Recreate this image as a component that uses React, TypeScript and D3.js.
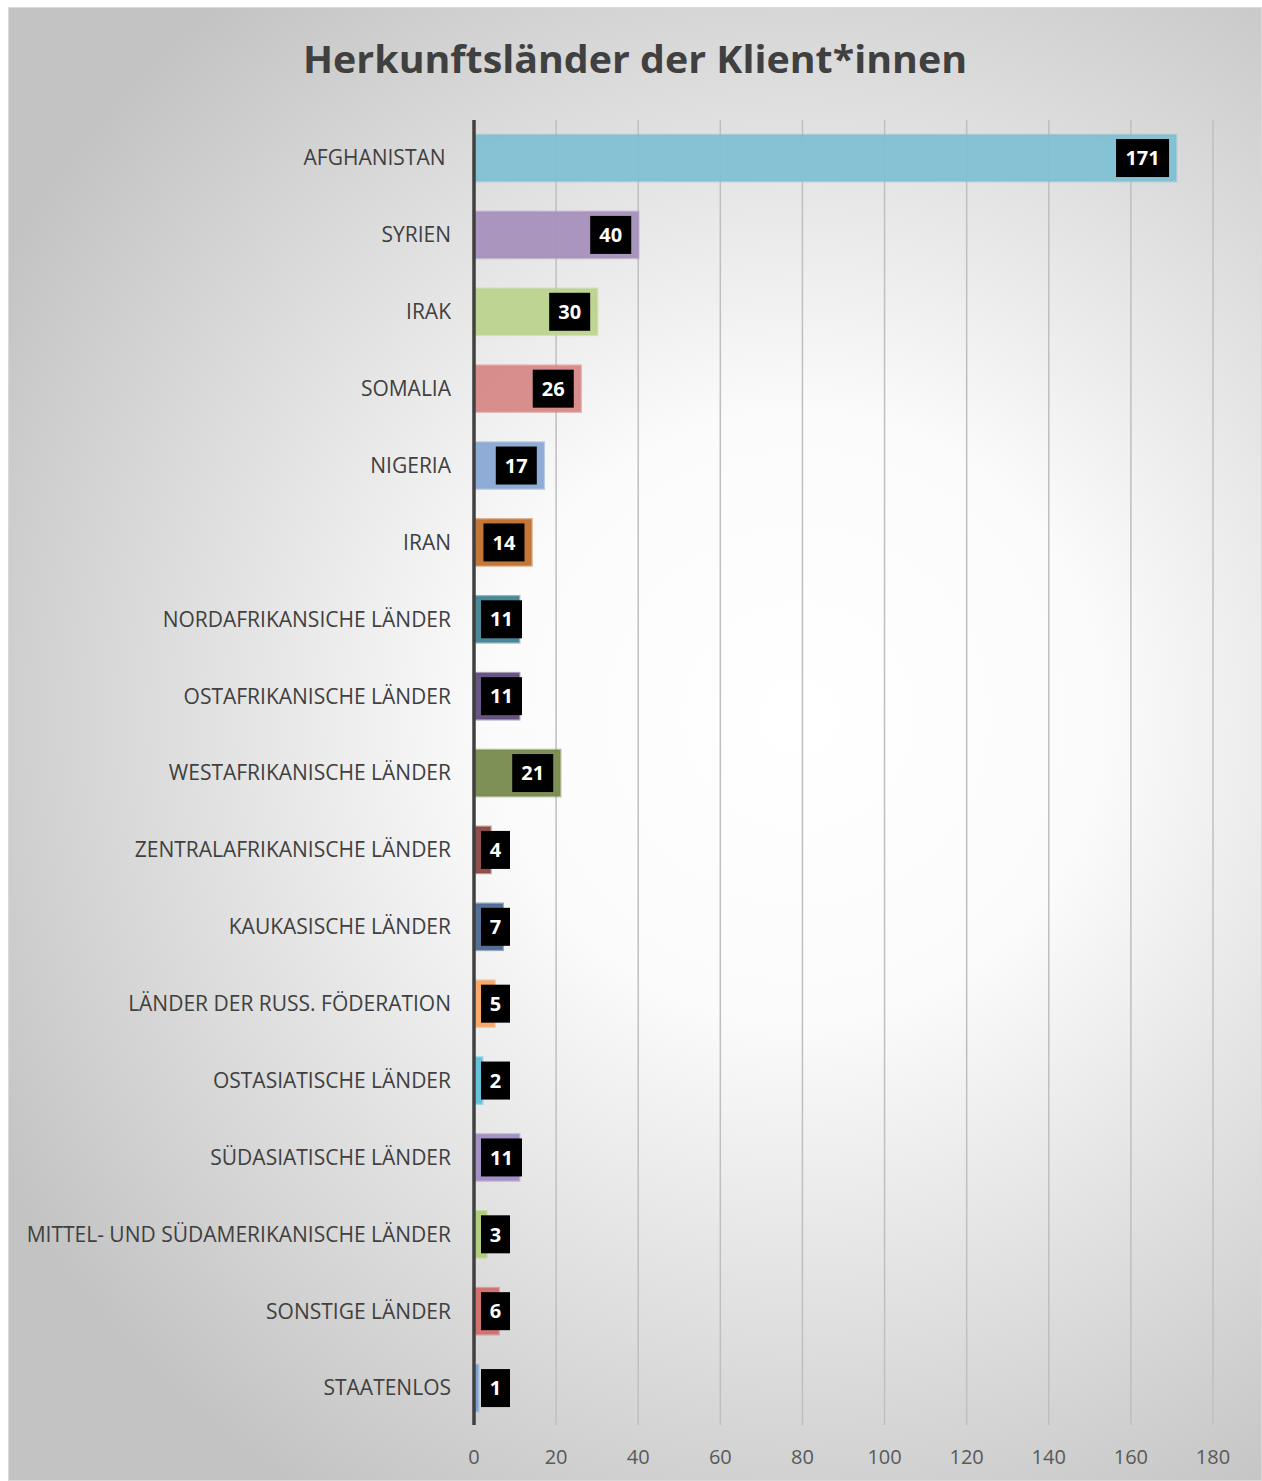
import React from "react";
import * as d3 from "d3";

const title = "Herkunftsländer der Klient*innen";
const categories = [
  "AFGHANISTAN ",
  "SYRIEN",
  "IRAK",
  "SOMALIA",
  "NIGERIA",
  "IRAN",
  "NORDAFRIKANSICHE LÄNDER",
  "OSTAFRIKANISCHE LÄNDER",
  "WESTAFRIKANISCHE LÄNDER",
  "ZENTRALAFRIKANISCHE LÄNDER",
  "KAUKASISCHE LÄNDER",
  "LÄNDER DER RUSS. FÖDERATION",
  "OSTASIATISCHE LÄNDER",
  "SÜDASIATISCHE LÄNDER",
  "MITTEL- UND SÜDAMERIKANISCHE LÄNDER",
  "SONSTIGE LÄNDER",
  "STAATENLOS",
];
const values = [171, 40, 30, 26, 17, 14, 11, 11, 21, 4, 7, 5, 2, 11, 3, 6, 1];
const barColors = [
  "#7fc0d2",
  "#a690bd",
  "#bcd38e",
  "#d58886",
  "#89a8d4",
  "#c0702e",
  "#3f8394",
  "#5f4c7d",
  "#778a4c",
  "#8a4542",
  "#4b6891",
  "#f9a464",
  "#5fc0da",
  "#a08cc4",
  "#afcc76",
  "#d26e6b",
  "#7aa2d6",
];
const ticks = [0, 20, 40, 60, 80, 100, 120, 140, 160, 180];

const W = 1254;
const H = 1474;

export default function App() {
  const x = d3.scaleLinear().domain([0, 180]).range([466, 1205]);
  const y = d3
    .scaleBand<string>()
    .domain(categories)
    .range([112.6, 1419.5])
    .paddingInner(0.4)
    .paddingOuter(0.2);
  const bw = y.bandwidth();
  const plotTop = 113;
  const plotBottom = 1418;
  const boxH = 38;
  const boxW = (v: number) => (String(v).length === 1 ? 29 : String(v).length === 2 ? 41 : 53);

  return (
    <svg
      width={W}
      height={H}
      style={{ position: "absolute", left: 8, top: 7, display: "block" }}
      fontFamily="'Open Sans', sans-serif"
    >
      <defs>
        <radialGradient id="bg" gradientUnits="userSpaceOnUse" cx={790} cy={710} r={920}>
          <stop offset="0" stopColor="#ffffff" />
          <stop offset="0.33" stopColor="#fbfbfb" />
          <stop offset="1" stopColor="#c3c3c3" />
        </radialGradient>
      </defs>
      <rect x={0} y={0} width={W} height={H} fill="url(#bg)" />
      <rect x={0.5} y={0.5} width={W - 1} height={H - 1} fill="none" stroke="#d9d9d9" strokeWidth={1} />

      <text
        x={627}
        y={66}
        textAnchor="middle"
        fontSize={38}
        fontWeight={700}
        fill="#404040"
        textLength={664}
        lengthAdjust="spacingAndGlyphs"
      >
        {title}
      </text>

      {ticks.map((t) =>
        t === 0 ? null : (
          <line key={"g" + t} x1={x(t)} x2={x(t)} y1={plotTop} y2={plotBottom} stroke="#bfbfbf" strokeWidth={1.5} />
        )
      )}
      {ticks.map((t) => (
        <text key={"t" + t} x={x(t)} y={1457} textAnchor="middle" fontSize={20} fill="#595959">
          {t}
        </text>
      ))}

      {categories.map((c, i) => {
        const yc = (y(c) as number) + bw / 2;
        const v = values[i];
        const x0 = x(0);
        const x1 = x(v);
        const w = boxW(v);
        const bx = Math.max(x0 + 7, x1 - 7 - w);
        return (
          <g key={c}>
            <rect
              x={x0}
              y={y(c) as number}
              width={x1 - x0}
              height={bw}
              fill={barColors[i]}
              stroke={barColors[i]}
              strokeOpacity={0.55}
              strokeWidth={2.5}
              fillOpacity={0.95}
            />
            <text
              x={443}
              y={yc}
              dy="0.35em"
              textAnchor="end"
              fontSize={21}
              fill="#404040"
              style={{ whiteSpace: "pre" }}
            >
              {c}
            </text>
            <rect x={bx} y={yc - boxH / 2} width={w} height={boxH} fill="#000000" />
            <text
              x={bx + w / 2}
              y={yc}
              dy="0.36em"
              textAnchor="middle"
              fontSize={20}
              fontWeight={700}
              fill="#ffffff"
            >
              {v}
            </text>
          </g>
        );
      })}

      <line x1={x(0)} x2={x(0)} y1={plotTop} y2={plotBottom} stroke="#404040" strokeWidth={3.5} />
    </svg>
  );
}
